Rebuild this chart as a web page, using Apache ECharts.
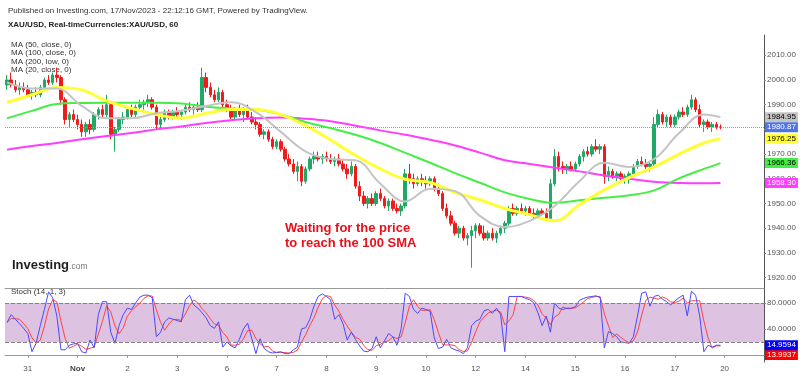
<!DOCTYPE html>
<html>
<head>
<meta charset="utf-8">
<script src="https://cdn.jsdelivr.net/npm/echarts@6/dist/echarts.min.js"></script>
<style>
  html, body { margin: 0; padding: 0; background: #fff; }
  #chart-wrapper { width: 800px; height: 376px; }
</style>
</head>
<body>
<div id="chart-wrapper"></div>
<script>
// day labels on the time axis, 2-hour slots, first label at slot 5
const dayLabels = ["31", "Nov", "2", "3", "6", "7", "8", "9", "10", "12", "14", "15", "16", "17", "20"];
const firstDaySlot = 5;
const slotsPerDay = 12;
const slotCount = 183;

// XAU/USD candles [open, high, low, close]
const ohlc = [
  [1998,2002,1996,2000],[2000,2003,1997,1998],[1998,2000,1995,1996],[1996,1999,1994,1997],[1997,1999,1995,1996],
  [1996,1998,1993,1994],[1994,1996,1992,1995],[1995,1997,1993,1994],[1994,1998,1993,1997],[1997,2001,1996,2000],[2000,2002,1998,1999],[1999,2003,1998,2002],[2002,2005,1999,2001],[2001,2002,1990,1992],[1992,1993,1982,1984],[1984,1987,1981,1986],[1986,1988,1983,1984],
  [1984,1986,1980,1982],[1982,1984,1977,1979],[1979,1983,1977,1982],[1982,1984,1978,1980],[1980,1987,1979,1986],[1986,1989,1984,1988],[1988,1990,1985,1986],[1986,1994,1985,1990],[1990,1991,1976,1978],[1978,1981,1971,1980],[1980,1985,1979,1984],[1984,1987,1982,1985],
  [1985,1989,1984,1988],[1988,1990,1985,1986],[1986,1990,1985,1989],[1989,1992,1987,1990],[1990,1992,1988,1991],[1991,1994,1989,1992],[1992,1993,1988,1989],[1989,1990,1980,1982],[1982,1985,1980,1984],[1984,1988,1983,1987],[1987,1988,1984,1985],[1985,1988,1984,1987],
  [1987,1989,1985,1986],[1986,1988,1984,1987],[1987,1990,1986,1989],[1989,1991,1987,1988],[1988,1990,1986,1989],[1989,1991,1987,1988],[1988,2005,1987,2001],[2001,2003,1995,1997],[1997,1999,1993,1994],[1994,1996,1991,1992],[1992,1997,1991,1995],[1995,1996,1989,1990],
  [1990,1992,1987,1988],[1988,1990,1984,1985],[1985,1989,1984,1988],[1988,1990,1985,1986],[1986,1989,1983,1988],[1988,1990,1984,1985],[1985,1987,1982,1983],[1983,1985,1980,1982],[1982,1983,1977,1978],[1978,1980,1976,1979],[1979,1980,1975,1976],[1976,1977,1972,1973],
  [1973,1976,1972,1975],[1975,1976,1971,1972],[1972,1973,1967,1968],[1968,1970,1965,1966],[1966,1968,1962,1963],[1963,1967,1959,1965],[1965,1966,1957,1959],[1959,1965,1958,1964],[1964,1969,1963,1968],[1968,1971,1966,1969],[1969,1971,1967,1968],[1968,1970,1966,1969],
  [1969,1971,1967,1968],[1968,1970,1966,1967],[1967,1969,1965,1968],[1968,1970,1965,1966],[1966,1968,1963,1964],[1964,1966,1960,1962],[1962,1967,1961,1965],[1965,1966,1956,1957],[1957,1959,1951,1953],[1953,1955,1949,1950],[1950,1953,1948,1952],[1952,1954,1949,1950],
  [1950,1955,1949,1954],[1954,1956,1951,1952],[1952,1953,1948,1949],[1949,1952,1947,1951],[1951,1952,1947,1948],[1948,1950,1946,1947],[1947,1950,1945,1949],[1949,1964,1948,1962],[1962,1966,1958,1960],[1960,1962,1956,1958],[1958,1961,1957,1960],[1960,1962,1957,1959],
  [1959,1961,1956,1958],[1958,1961,1957,1960],[1960,1961,1955,1956],[1956,1958,1953,1954],[1954,1955,1947,1948],[1948,1950,1944,1945],[1945,1947,1941,1942],[1942,1943,1937,1938],[1938,1941,1936,1940],[1940,1941,1935,1936],[1936,1938,1933,1937],[1937,1941,1924,1939],
  [1939,1942,1936,1941],[1941,1942,1937,1938],[1938,1941,1935,1936],[1936,1939,1935,1938],[1938,1940,1935,1936],[1936,1939,1934,1938],[1938,1941,1937,1940],[1940,1943,1938,1942],[1942,1949,1941,1948],[1948,1950,1945,1946],[1946,1949,1945,1948],[1948,1950,1946,1947],
  [1947,1949,1945,1948],[1948,1949,1945,1946],[1946,1948,1944,1945],[1945,1948,1944,1947],[1947,1948,1945,1946],[1946,1948,1943,1944],[1944,1960,1943,1958],[1958,1972,1957,1969],[1969,1971,1963,1965],[1965,1967,1962,1964],[1964,1966,1962,1965],[1965,1967,1963,1964],
  [1964,1967,1963,1966],[1966,1970,1965,1969],[1969,1972,1967,1971],[1971,1973,1969,1970],[1970,1974,1969,1973],[1973,1976,1971,1972],[1972,1974,1970,1973],[1973,1974,1958,1961],[1961,1965,1959,1963],[1963,1964,1960,1961],[1961,1963,1959,1962],[1962,1963,1959,1960],
  [1960,1962,1958,1961],[1961,1963,1958,1962],[1962,1966,1961,1965],[1965,1968,1964,1967],[1967,1969,1965,1966],[1966,1968,1964,1965],[1965,1967,1963,1966],[1966,1985,1965,1982],[1982,1988,1981,1986],[1986,1987,1982,1983],[1983,1986,1981,1985],[1985,1986,1981,1982],
  [1982,1986,1981,1985],[1985,1988,1984,1987],[1987,1989,1985,1986],[1986,1990,1985,1989],[1989,1994,1988,1992],[1992,1993,1987,1988],[1988,1990,1981,1982],[1982,1984,1979,1983],[1983,1984,1980,1981],[1981,1983,1979,1982],[1982,1983,1980,1981],[1981,1982,1980,1980.87]
];

// moving averages sampled every half day
const maSlots = [0,6,12,18,24,30,36,42,48,54,60,66,72,78,84,90,96,102,108,114,120,126,132,138,144,150,156,162,168,172];
const ma20 = [1999,1996.5,1996.5,1989.5,1984.5,1984.5,1986.5,1987.5,1989.5,1991,1987,1979,1971,1968,1967.5,1958,1950.8,1956,1955,1945,1940.5,1943,1949,1959,1966.5,1964.8,1968,1978.4,1986,1984.95];
const ma50 = [1991,1994,1997,1996,1991.5,1988.5,1986,1984.6,1986.5,1988,1988,1986,1981.5,1975.7,1969.5,1964,1959.8,1958.5,1954.5,1951.5,1948,1945.5,1943,1949.5,1955.5,1960.5,1964.8,1970,1974.5,1976.25];
const ma100 = [1984.5,1987.5,1990.3,1990.7,1990.8,1990.8,1990.8,1990.5,1989.2,1988.5,1988,1986,1983,1980.5,1977.8,1974.5,1970.5,1966.5,1962.3,1958.4,1954.5,1951.8,1950.3,1951.3,1952.3,1953.3,1955.3,1960.2,1964,1966.36];
const ma200 = [1971.8,1973.3,1974.5,1976,1977.3,1978.5,1980,1981.2,1982.6,1983.7,1984.5,1984.8,1984.3,1983.3,1981.5,1979.6,1977.8,1975.8,1973.5,1970.6,1967.5,1966,1964.5,1963,1961.3,1960,1958.8,1958.3,1958.2,1958.3];

// Stoch (14, 1, 3) %K
const stochK = [
  50,62,55,48,41,
  33,5,18,45,70,97,88,60,8,8,15,17,
  18,5,3,23,11,62,82,82,35,18,45,62,
  72,70,80,89,92,92,88,28,35,51,57,55,
  53,51,85,92,77,72,65,57,45,41,51,12,
  20,14,11,24,40,49,25,2,25,10,5,3,
  4,5,2,2,8,12,40,42,55,75,90,94,
  90,85,55,62,48,23,35,24,14,6,5,10,
  28,11,22,33,28,15,40,95,90,70,64,72,
  70,67,26,10,12,24,11,8,6,2,11,45,
  52,55,68,70,64,72,62,5,90,90,90,90,
  87,85,80,65,45,60,35,80,72,70,72,72,
  74,84,87,89,90,91,88,11,36,33,28,20,
  19,18,28,60,95,97,75,90,92,86,82,77,
  83,88,92,60,98,92,60,5,15,12,15.0217,14.9594
];

const priceTicks = [1920, 1930, 1940, 1950, 1960, 1970, 1980, 1990, 2000, 2010];
const stochTicks = [40, 80];
const stochBand = [20, 80];

const FONT = "'Liberation Sans', Arial, sans-serif";
const HIDDEN_LINE = { color: "rgba(0,0,0,0)", width: 1 };

let chart;

const dayIndex = (i) => {
  const k = i - firstDaySlot;
  return k >= 0 && k % slotsPerDay === 0 ? k / slotsPerDay : -1;
};

const categories = Array.from({ length: slotCount }, (_, i) => "s" + i);
const isDayStart = (index) => dayIndex(index) >= 0 && dayIndex(index) < dayLabels.length;

function markerLabel(bg, fg, digits) {
  return {
    show: true,
    position: "end",
    distance: 1,
    formatter: (p) => Number(p.value).toFixed(digits),
    backgroundColor: bg,
    color: fg,
    opacity: 1,
    fontSize: 8,
    fontFamily: FONT,
    padding: [1, 2, 0, 2],
    lineHeight: 9,
  };
}

const maSeries = (name, values, color, width, textColor) => ({
  name: name,
  type: "line",
  xAxisIndex: 0,
  yAxisIndex: 0,
  data: values.map((v, k) => [maSlots[k], v]),
  smooth: 0.4,
  symbol: "none",
  silent: true,
  lineStyle: { color: color, width: width },
  markLine: {
    silent: true,
    symbol: "none",
    precision: 2,
    lineStyle: HIDDEN_LINE,
    data: [{ yAxis: values[values.length - 1] }],
    label: markerLabel(color, textColor, 2),
  },
});

const init_handler = () => {
  chart = echarts.init(document.getElementById("chart-wrapper"));

  const candleData = ohlc.map((d) => [d[0], d[3], d[2], d[1]]);
  const lastClose = ohlc[ohlc.length - 1][3];

  // %D = 3 period average of %K
  const stochD = stochK.map((v, i) => {
    const w = stochK.slice(Math.max(0, i - 2), i + 1);
    return w.reduce((a, b) => a + b, 0) / w.length;
  });

  const option = {
    animation: false,
    backgroundColor: "#ffffff",
    grid: [
      { left: 5, right: 36, top: 35, height: 253 },
      { left: 5, right: 36, top: 288, height: 74 },
    ],
    xAxis: [
      {
        type: "category",
        gridIndex: 0,
        data: categories,
        axisLine: { show: true, lineStyle: { color: "#9a9a9a", width: 1 } },
        axisTick: { show: false },
        axisLabel: { show: false },
        splitLine: { show: false },
      },
      {
        type: "category",
        gridIndex: 1,
        data: categories,
        axisLine: { show: true, lineStyle: { color: "#9a9a9a", width: 1 } },
        axisTick: {
          show: true,
          alignWithLabel: true,
          interval: (index) => isDayStart(index),
          length: 3,
          lineStyle: { color: "#9a9a9a" },
        },
        axisLabel: {
          interval: (index) => isDayStart(index),
          formatter: (value, index) => {
            const t = dayLabels[dayIndex(index)];
            return t === "Nov" ? "{b|Nov}" : t;
          },
          rich: { b: { fontWeight: "bold", fontSize: 8, color: "#444", fontFamily: FONT } },
          color: "#555",
          fontSize: 8,
          fontFamily: FONT,
          margin: 3,
        },
        splitLine: { show: false },
      },
    ],
    yAxis: [
      {
        type: "value",
        gridIndex: 0,
        position: "right",
        min: 1915.8,
        max: 2018.2,
        axisLine: { show: true, lineStyle: { color: "#555", width: 1 } },
        axisTick: { show: true, length: 2, customValues: priceTicks, lineStyle: { color: "#888" } },
        axisLabel: {
          customValues: priceTicks,
          formatter: (v) => v.toFixed(2),
          color: "#555",
          fontSize: 8,
          fontFamily: FONT,
          margin: 3,
        },
        splitLine: { show: false },
      },
      {
        type: "value",
        gridIndex: 1,
        position: "right",
        min: -10.8,
        max: 103,
        axisLine: { show: true, lineStyle: { color: "#555", width: 1 } },
        axisTick: { show: true, length: 2, customValues: stochTicks, lineStyle: { color: "#888" } },
        axisLabel: {
          customValues: stochTicks,
          formatter: (v) => v.toFixed(4),
          color: "#555",
          fontSize: 8,
          fontFamily: FONT,
          margin: 3,
        },
        splitLine: { show: false },
      },
    ],
    series: [
      maSeries("MA200", ma200, "#ff3cff", 2, "#fff"),
      maSeries("MA100", ma100, "#44ee44", 2, "#000"),
      maSeries("MA50", ma50, "#ffff33", 3, "#000"),
      maSeries("MA20", ma20, "#c4c4c4", 2, "#000"),
      {
        name: "XAU/USD",
        type: "candlestick",
        xAxisIndex: 0,
        yAxisIndex: 0,
        data: candleData,
        barWidth: 3,
        silent: true,
        itemStyle: {
          color: "#20a866",
          color0: "#f21b1b",
          borderColor: "#20a866",
          borderColor0: "#f21b1b",
          borderWidth: 1,
        },
        markLine: {
          silent: true,
          symbol: "none",
          precision: 2,
          lineStyle: { type: "dotted", color: "#7f98ea", width: 1 },
          data: [{ yAxis: lastClose }],
          label: markerLabel("#4f74e3", "#fff", 2),
        },
      },
      {
        name: "%D",
        type: "line",
        xAxisIndex: 1,
        yAxisIndex: 1,
        data: stochD,
        symbol: "none",
        silent: true,
        lineStyle: { color: "#ff4444", width: 1 },
        markArea: {
          silent: true,
          itemStyle: { color: "#ddc2e2" },
          data: [[{ yAxis: stochBand[0] }, { yAxis: stochBand[1] }]],
        },
        markLine: {
          silent: true,
          symbol: "none",
          precision: 4,
          data: [
            { yAxis: stochBand[0], lineStyle: { type: "dashed", color: "#8a7d8e", width: 1 }, label: { show: false } },
            { yAxis: stochBand[1], lineStyle: { type: "dashed", color: "#8a7d8e", width: 1 }, label: { show: false } },
            {
              yAxis: stochD[stochD.length - 1],
              lineStyle: HIDDEN_LINE,
              label: Object.assign(markerLabel("#ff0000", "#fff", 4), { offset: [0, 9] }),
            },
          ],
        },
      },
      {
        name: "%K",
        type: "line",
        xAxisIndex: 1,
        yAxisIndex: 1,
        data: stochK,
        symbol: "none",
        silent: true,
        lineStyle: { color: "#4a4aff", width: 1 },
        markLine: {
          silent: true,
          symbol: "none",
          precision: 4,
          lineStyle: HIDDEN_LINE,
          data: [{ yAxis: stochK[stochK.length - 1] }],
          label: markerLabel("#0000ff", "#fff", 4),
        },
      },
    ],
    graphic: [
      {
        type: "text", left: 8, top: 7,
        style: { text: "Published on Investing.com, 17/Nov/2023 - 22:12:16 GMT, Powered by TradingView.", fill: "#333", fontSize: 8, fontFamily: FONT },
      },
      {
        type: "text", left: 8, top: 21,
        style: { text: "XAU/USD, Real-timeCurrencies:XAU/USD, 60", fill: "#222", fontSize: 8, fontWeight: "bold", fontFamily: FONT },
      },
      {
        type: "text", left: 11, top: 40,
        style: { text: "MA (50, close, 0)\nMA (100, close, 0)\nMA (200, low, 0)\nMA (20, close, 0)", fill: "#333", fontSize: 8, lineHeight: 8.6, fontFamily: FONT },
      },
      {
        type: "text", left: 285, top: 221,
        style: { text: "Waiting for the price\nto reach the 100 SMA", fill: "#e8101a", fontSize: 13, fontWeight: "bold", lineHeight: 15, fontFamily: FONT },
      },
      {
        type: "text", left: 12, top: 259,
        style: {
          text: "{a|Investing}{c|.com}",
          rich: {
            a: { fontSize: 13, fontWeight: "bold", fill: "#1e1e1e", fontFamily: FONT },
            c: { fontSize: 8.5, fill: "#777", fontFamily: FONT, padding: [3, 0, 0, 0] },
          },
        },
      },
      {
        type: "text", left: 11, top: 288,
        style: { text: "Stoch (14, 1, 3)", fill: "#333", fontSize: 8, fontFamily: FONT },
      },
    ],
  };
  option && chart.setOption(option);
};

init_handler();
</script>
</body>
</html>
